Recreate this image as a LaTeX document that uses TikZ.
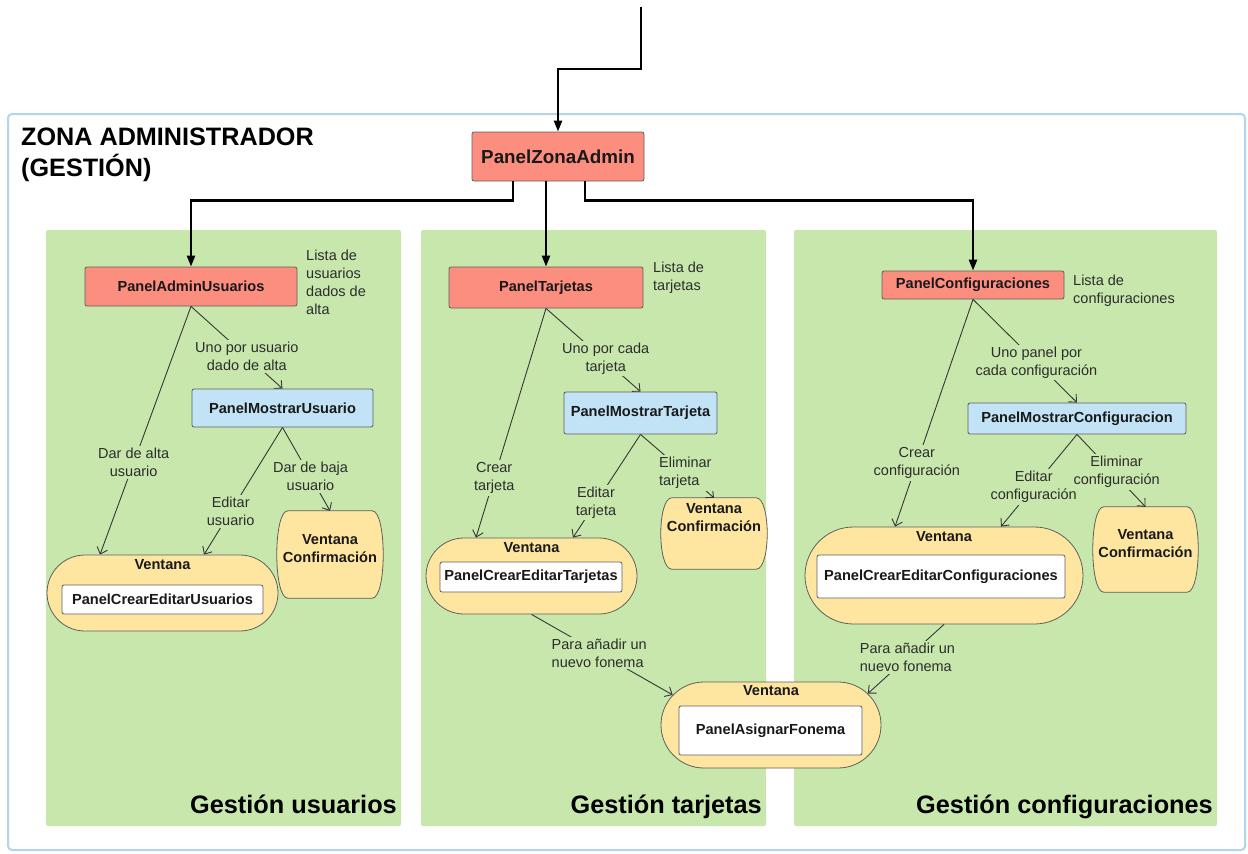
\documentclass[tikz,border=0pt]{standalone}
\usepackage{fontspec}
\setmainfont{Liberation Sans}
\usetikzlibrary{arrows.meta,shapes.misc,calc}
\definecolor{panelgreen}{RGB}{199,231,172}
\definecolor{borderblue}{RGB}{178,212,238}
\definecolor{redfill}{RGB}{252,142,128}
\definecolor{bluefill}{RGB}{194,227,246}
\definecolor{yellowfill}{RGB}{255,230,160}
\definecolor{boxline}{RGB}{95,95,95}
\definecolor{conncol}{RGB}{55,55,55}
\definecolor{labelgray}{RGB}{45,45,45}
\definecolor{nodetext}{RGB}{25,25,25}
\begin{document}
\begin{tikzpicture}[x=1pt,y=-1pt,
  lbl/.style={font=\fontsize{14.5}{18}\selectfont, text=labelgray, fill=panelgreen, inner sep=2pt, align=center},
  note/.style={font=\fontsize{14.5}{18}\selectfont, text=labelgray, inner sep=0pt, align=left, anchor=north west},
  bnode/.style={font=\fontsize{14.6}{18}\selectfont\bfseries, text=nodetext},
  redbox/.style={draw=boxline, line width=0.8pt, fill=redfill, rounded corners=2pt, bnode, inner sep=0pt},
  bluebox/.style={draw=boxline, line width=0.8pt, fill=bluefill, rounded corners=2pt, bnode, inner sep=0pt},
  whitebox/.style={draw=boxline, line width=0.8pt, fill=white, rounded corners=2pt, bnode, inner sep=0pt},
  winshape/.style={rounded rectangle, draw=boxline, line width=0.8pt, fill=yellowfill, inner sep=0pt},
  confarea/.style={rectangle, inner sep=0pt},
  confdraw/.style={draw=boxline, line width=0.8pt, fill=yellowfill},
  wintitle/.style={bnode, inner sep=0pt, align=center},
  conn/.style={draw=conncol, line width=0.9pt, -{Straight Barb[length=6pt,width=11pt]}},
  mainline/.style={draw=black, line width=2.4pt, -{Triangle[length=11pt,width=8pt]}},
  paneltitle/.style={font=\fontsize{25.3}{30}\selectfont\bfseries, text=black, inner sep=0pt, anchor=base east},
  greenpanel/.style={fill=panelgreen, rounded corners=2pt}
]
\useasboundingbox (0,0) rectangle (1248,854);
\fill[white] (0,0) rectangle (1248,854);

% outer zone
\draw[borderblue, line width=2pt, rounded corners=4pt] (8,114) rectangle (1245,850);
\node[font=\fontsize{25.2}{31}\selectfont\bfseries, align=left, anchor=north west, inner sep=0pt] (zonatitle) at (21,128) {ZONA ADMINISTRADOR\\(GESTIÓN)};

% green panels
\fill[greenpanel] (46,230) rectangle (401,826);
\fill[greenpanel] (421,230) rectangle (766,826);
\fill[greenpanel] (794,230) rectangle (1217,826);
\node[paneltitle] (tU) at (397,813) {Gestión usuarios};
\node[paneltitle] (tT) at (762,813) {Gestión tarjetas};
\node[paneltitle] (tC) at (1213,813) {Gestión configuraciones};

% main nodes
\node[redbox, minimum width=172pt, minimum height=49pt, font=\fontsize{18.8}{22}\selectfont\bfseries] (zona) at (558,156.5) {PanelZonaAdmin};
\node[redbox, minimum width=212pt, minimum height=39pt] (au) at (191,286.5) {PanelAdminUsuarios};
\node[redbox, minimum width=194pt, minimum height=41pt] (tj) at (546,287.5) {PanelTarjetas};
\node[redbox, minimum width=182pt, minimum height=28pt] (cf) at (973,285) {PanelConfiguraciones};

\node[note] (listaU) at (306,250) {Lista de\\usuarios\\dados de\\alta};
\node[note] (listaT) at (653,262) {Lista de\\tarjetas};
\node[note] (listaC) at (1073,275) {Lista de\\configuraciones};

\node[bluebox, minimum width=181pt, minimum height=38pt] (mU) at (282.5,408) {PanelMostrarUsuario};
\node[bluebox, minimum width=153pt, minimum height=42pt] (mT) at (640.5,413) {PanelMostrarTarjeta};
\node[bluebox, minimum width=218pt, minimum height=31pt] (mC) at (1077,418.5) {PanelMostrarConfiguracion};

% ventanas
\node[winshape, minimum width=231pt, minimum height=76pt] (vU) at (162.5,593) {};
\node[wintitle] (vUt) at (162.5,565) {Ventana};
\node[whitebox, minimum width=201pt, minimum height=29pt] (wU) at (162.5,599.5) {PanelCrearEditarUsuarios};

\node[winshape, minimum width=211pt, minimum height=76pt] (vT) at (531.5,576) {};
\node[wintitle] (vTt) at (531.5,548) {Ventana};
\node[whitebox, minimum width=182pt, minimum height=30pt] (wT) at (531,577) {PanelCrearEditarTarjetas};

\node[winshape, minimum width=278pt, minimum height=97pt] (vC) at (944,575.5) {};
\node[wintitle] (vCt) at (944,537) {Ventana};
\node[whitebox, minimum width=248pt, minimum height=43pt] (wC) at (941,576.5) {PanelCrearEditarConfiguraciones};

\node[winshape, minimum width=220pt, minimum height=86pt] (vA) at (771,725) {};
\node[wintitle] (vAt) at (771,691) {Ventana};
\node[whitebox, minimum width=183pt, minimum height=49pt] (wA) at (770.5,730.5) {PanelAsignarFonema};

% confirmation windows
\node[confarea, minimum width=106pt, minimum height=87pt] (cU) at (330,554.5) {};
\draw[confdraw] ([xshift=-11pt]cU.north east) .. controls ([xshift=3.7pt]cU.north east) and ([xshift=3.7pt]cU.south east) .. ([xshift=-11pt]cU.south east) -- ([xshift=11pt]cU.south west) .. controls ([xshift=-3.7pt]cU.south west) and ([xshift=-3.7pt]cU.north west) .. ([xshift=11pt]cU.north west) -- cycle;
\node[wintitle] (cUt) at (330,548.5) {Ventana\\Confirmación};

\node[confarea, minimum width=106pt, minimum height=71pt] (cT) at (714,533.5) {};
\draw[confdraw] ([xshift=-11pt]cT.north east) .. controls ([xshift=3.7pt]cT.north east) and ([xshift=3.7pt]cT.south east) .. ([xshift=-11pt]cT.south east) -- ([xshift=11pt]cT.south west) .. controls ([xshift=-3.7pt]cT.south west) and ([xshift=-3.7pt]cT.north west) .. ([xshift=11pt]cT.north west) -- cycle;
\node[wintitle] (cTt) at (714,517.5) {Ventana\\Confirmación};

\node[confarea, minimum width=105pt, minimum height=85pt] (cC) at (1145.5,549.5) {};
\draw[confdraw] ([xshift=-11pt]cC.north east) .. controls ([xshift=3.7pt]cC.north east) and ([xshift=3.7pt]cC.south east) .. ([xshift=-11pt]cC.south east) -- ([xshift=11pt]cC.south west) .. controls ([xshift=-3.7pt]cC.south west) and ([xshift=-3.7pt]cC.north west) .. ([xshift=11pt]cC.north west) -- cycle;
\node[wintitle] (cCt) at (1145.5,544) {Ventana\\Confirmación};

% thick connectors
\coordinate (start) at (641,7);
\draw[mainline] (start) -- ++(0,62) -| (zona.north);
\draw[mainline] ([xshift=-45pt]zona.south) -- ++(0,19) -| (au.north);
\draw[mainline] ([xshift=-12pt]zona.south) -- (tj.north);
\draw[mainline] ([xshift=27pt]zona.south) -- ++(0,19) -| (cf.north);

% usuarios
\draw[conn] (au.south) -- node[lbl, pos=0.63] {Dar de alta\\usuario} ([xshift=-62.5pt]vU.north);
\draw[conn] (au.south) -- node[lbl, pos=0.61] {Uno por usuario\\dado de alta} (mU.north);
\draw[conn] (mU.south) -- node[lbl, pos=0.66] {Editar\\usuario} ([xshift=41.5pt]vU.north);
\draw[conn] (mU.south) -- node[lbl, pos=0.59] {Dar de baja\\usuario} (cU.north);

% tarjetas
\draw[conn] (tj.south) -- node[lbl, pos=0.74] {Crear\\tarjeta} ([xshift=-55.5pt]vT.north);
\draw[conn] (tj.south) -- node[lbl, pos=0.6, xshift=3pt] {Uno por cada\\tarjeta} (mT.north);
\draw[conn] (mT.south) -- node[lbl, pos=0.66] {Editar\\tarjeta} ([xshift=41.5pt]vT.north);
\draw[conn] (mT.south) -- node[lbl, pos=0.61, align=left] {Eliminar\\tarjeta} (cT.north);
\draw[conn] (vT.south) -- node[lbl, pos=0.48, align=left] {Para añadir un\\nuevo fonema} (vA.163);

% configuraciones
\draw[conn] (cf.south) -- node[lbl, pos=0.72] {Crear\\configuración} ([xshift=-49pt]vC.north);
\draw[conn] (cf.south) -- node[lbl, pos=0.61] {Uno panel por\\cada configuración} (mC.north);
\draw[conn] (mC.south) -- node[lbl, pos=0.57] {Editar\\configuración} ([xshift=57pt]vC.north);
\draw[conn] (mC.south) -- node[lbl, pos=0.52, xshift=4pt] {Eliminar\\configuración} (cC.north);
\draw[conn] (vC.south) -- node[lbl, pos=0.48, align=left] {Para añadir un\\nuevo fonema} (vA.18);
\end{tikzpicture}
\end{document}
